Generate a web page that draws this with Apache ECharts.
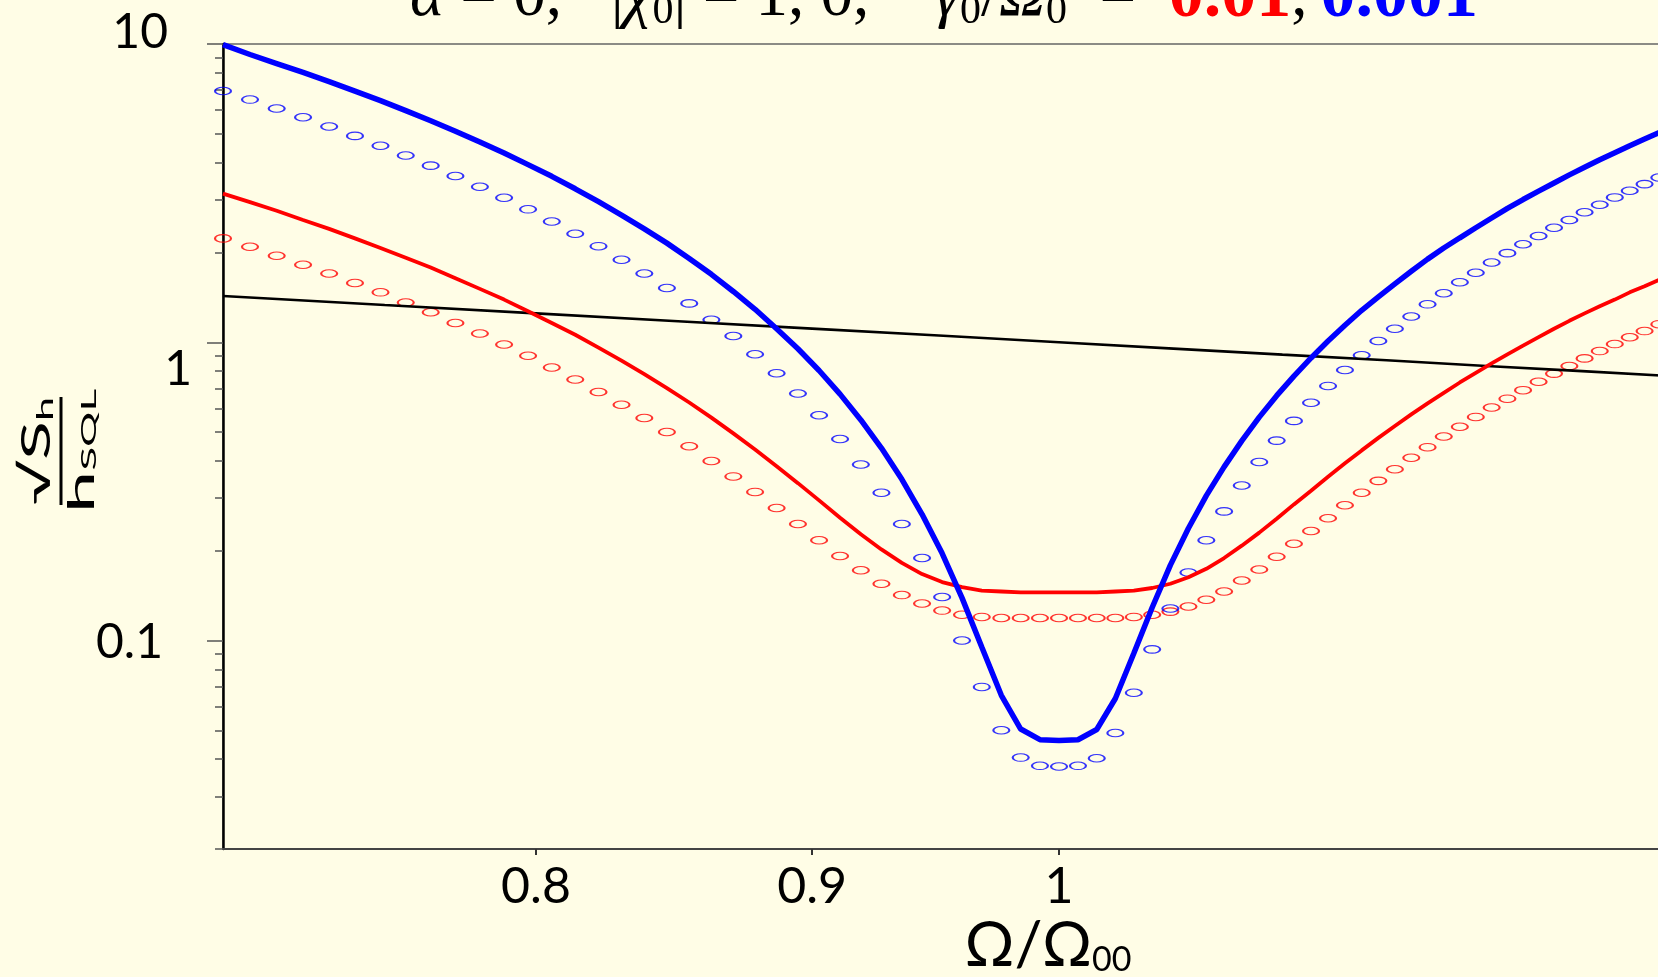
<!DOCTYPE html>
<html><head><meta charset="utf-8">
<script src="https://cdn.jsdelivr.net/npm/echarts@6/dist/echarts.min.js"></script>
<style>html,body{margin:0;padding:0;background:#FFFDE6;overflow:hidden;width:1658px;height:977px;} #c{width:1674px;height:977px;}</style>
</head><body><div id="c"></div>
<script>
// Frequency Ω/Ω00 sample points of the circle markers
const omega = [0.7, 0.70811, 0.71622, 0.72432, 0.73243, 0.74054, 0.74865, 0.75676, 0.76486, 0.77297,
  0.78108, 0.78919, 0.7973, 0.80541, 0.81351, 0.82162, 0.82973, 0.83784, 0.84595, 0.85405,
  0.86216, 0.87027, 0.87838, 0.88649, 0.89459, 0.9027, 0.91081, 0.91892, 0.92703, 0.93514,
  0.94324, 0.95135, 0.95946, 0.96757, 0.97568, 0.98378, 0.99189, 1.0, 1.00811, 1.01622,
  1.02432, 1.03243, 1.04054, 1.04865, 1.05676, 1.06486, 1.07297, 1.08108, 1.08919, 1.0973,
  1.10541, 1.11351, 1.12162, 1.12973, 1.13784, 1.14595, 1.15405, 1.16216, 1.17027, 1.17838,
  1.18649, 1.19459, 1.2027, 1.21081, 1.21892, 1.22703, 1.23514, 1.24324, 1.25135, 1.25946,
  1.26757, 1.27568, 1.28378, 1.29189, 1.3];
// gamma0/Omega0 = 0.001 (blue), solid line
const blueSolid = [9.95, 9.22, 8.60, 8.03, 7.48, 6.95, 6.46, 5.98, 5.53, 5.10,
  4.69, 4.31, 3.94, 3.60, 3.27, 2.96, 2.67, 2.40, 2.15, 1.91,
  1.69, 1.48, 1.29, 1.11, 0.951, 0.804, 0.670, 0.549, 0.442, 0.347,
  0.265, 0.196, 0.139, 0.0951, 0.0655, 0.0505, 0.0465, 0.0462, 0.0465, 0.0503,
  0.0639, 0.0906, 0.129, 0.179, 0.238, 0.306, 0.382, 0.467, 0.561, 0.662,
  0.770, 0.886, 1.01, 1.14, 1.28, 1.42, 1.57, 1.73, 1.90, 2.07,
  2.24, 2.42, 2.61, 2.81, 3.01, 3.21, 3.42, 3.64, 3.86, 4.09,
  4.32, 4.56, 4.80, 5.05, 5.30];
// gamma0/Omega0 = 0.001 (blue), circles
const blueCircles = [6.96, 6.51, 6.08, 5.68, 5.29, 4.92, 4.56, 4.23, 3.91, 3.61,
  3.32, 3.05, 2.79, 2.54, 2.31, 2.10, 1.89, 1.70, 1.52, 1.35,
  1.19, 1.05, 0.912, 0.787, 0.673, 0.569, 0.474, 0.389, 0.313, 0.246,
  0.189, 0.140, 0.100, 0.0699, 0.0500, 0.0405, 0.0380, 0.0378, 0.0380, 0.0403,
  0.0490, 0.0668, 0.0934, 0.128, 0.169, 0.217, 0.271, 0.331, 0.397, 0.468,
  0.545, 0.627, 0.714, 0.807, 0.904, 1.01, 1.11, 1.22, 1.34, 1.46,
  1.59, 1.71, 1.85, 1.99, 2.13, 2.27, 2.42, 2.57, 2.73, 2.89,
  3.06, 3.22, 3.39, 3.57, 3.74];
// gamma0/Omega0 = 0.01 (red), solid line
const redSolid = [3.15, 2.95, 2.76, 2.57, 2.40, 2.23, 2.07, 1.92, 1.78, 1.64,
  1.51, 1.39, 1.27, 1.16, 1.06, 0.960, 0.868, 0.782, 0.702, 0.628,
  0.559, 0.495, 0.437, 0.384, 0.337, 0.295, 0.258, 0.227, 0.202, 0.182,
  0.167, 0.157, 0.151, 0.147, 0.146, 0.145, 0.145, 0.145, 0.145, 0.145,
  0.146, 0.147, 0.150, 0.155, 0.163, 0.174, 0.189, 0.208, 0.230, 0.256,
  0.286, 0.318, 0.354, 0.393, 0.434, 0.478, 0.524, 0.573, 0.624, 0.677,
  0.733, 0.790, 0.849, 0.911, 0.974, 1.04, 1.11, 1.18, 1.25, 1.32,
  1.39, 1.47, 1.54, 1.62, 1.70];
// gamma0/Omega0 = 0.01 (red), circles
const redCircles = [2.23, 2.09, 1.95, 1.82, 1.70, 1.58, 1.47, 1.36, 1.26, 1.16,
  1.07, 0.983, 0.901, 0.823, 0.750, 0.681, 0.617, 0.557, 0.500, 0.448,
  0.400, 0.355, 0.315, 0.278, 0.246, 0.217, 0.192, 0.172, 0.155, 0.142,
  0.133, 0.126, 0.122, 0.120, 0.119, 0.119, 0.119, 0.119, 0.119, 0.119,
  0.119, 0.120, 0.122, 0.125, 0.130, 0.137, 0.146, 0.159, 0.173, 0.191,
  0.211, 0.233, 0.257, 0.284, 0.313, 0.343, 0.375, 0.410, 0.445, 0.483,
  0.521, 0.562, 0.604, 0.647, 0.691, 0.737, 0.785, 0.833, 0.883, 0.934,
  0.986, 1.04, 1.09, 1.15, 1.21];
// black reference line
const sqlX = [0.7, 0.75, 0.8, 0.85, 0.9, 0.95, 1.0, 1.05, 1.1, 1.15, 1.2, 1.25, 1.3];
const sqlY = [1.43, 1.333, 1.25, 1.176, 1.111, 1.053, 1.0, 0.952, 0.909, 0.870, 0.833, 0.800, 0.769];
// ticks
const xTickValues = [0.8, 0.9, 1];
const yMajorTicks = [0.1, 1, 10];
const yMinorTicks = [0.02, 0.03, 0.04, 0.05, 0.06, 0.07, 0.08, 0.09,
  0.2, 0.3, 0.4, 0.5, 0.6, 0.7, 0.8, 0.9, 2, 3, 4, 5, 6, 7, 8, 9];

const pairs = (xs, ys) => xs.map((x, i) => [x, ys[i]]);
const tickFont = "'Lato', 'Open Sans', sans-serif";
const serif = "'Liberation Serif', 'DejaVu Serif', serif";

const chart = echarts.init(document.getElementById('c'), null, {renderer: 'canvas'});
const yBase = {
  type: 'log', logBase: 10, min: 0.02, max: 10, position: 'left',
  splitLine: {show: false}
};
chart.setOption({
  backgroundColor: '#FFFDE6',
  animation: false,
  grid: {left: 223, right: 0, top: 44, bottom: 128, show: true, borderColor: '#666', borderWidth: 1.5, backgroundColor: 'transparent'},
  xAxis: {
    type: 'log', logBase: 10, min: 0.7, max: 1.3,
    splitLine: {show: false},
    axisLine: {lineStyle: {color: '#444', width: 2}},
    axisTick: {customValues: xTickValues, length: 6, lineStyle: {color: '#333', width: 2}},
    axisLabel: {customValues: xTickValues, margin: 13, fontSize: 50, fontFamily: tickFont, color: '#000',
      formatter: v => (Math.abs(v - 1) < 1e-9 ? '1' : String(+v.toFixed(2)))}
  },
  yAxis: [
    Object.assign({}, yBase, {
      axisLine: {show: true, lineStyle: {color: '#000', width: 2.5}},
      axisTick: {customValues: yMajorTicks, length: 16, lineStyle: {color: '#555', width: 1.5}},
      axisLabel: {customValues: yMajorTicks, margin: 31, fontSize: 48, fontFamily: tickFont, color: '#000',
        formatter: v => {
          if (Math.abs(v - 10) < 1e-6) return '{a|10}';
          if (Math.abs(v - 1) < 1e-6) return '{b|1}';
          return '{c|0.1}';
        },
        rich: {
          a: {fontSize: 48, fontFamily: tickFont, padding: [0, 24, 22, 0]},
          b: {fontSize: 48, fontFamily: tickFont, padding: [54, 0, 0, 0]},
          c: {fontSize: 48, fontFamily: tickFont, padding: [4, 29, 0, 0]}
        }
      }
    }),
    Object.assign({}, yBase, {
      axisLine: {show: false},
      axisTick: {customValues: yMinorTicks, length: 8, lineStyle: {color: '#555', width: 1.5}},
      axisLabel: {show: false}
    })
  ],
  series: [
    {type: 'line', name: 'SQL', data: pairs(sqlX, sqlY), showSymbol: false, symbol: 'none',
      lineStyle: {color: '#000', width: 2.6}},
    {type: 'scatter', name: 'red circles', data: pairs(omega, redCircles), symbol: 'circle', symbolSize: [16, 7.5],
      itemStyle: {color: 'rgba(0,0,0,0)', borderColor: '#ff0000', borderWidth: 1.5}},
    {type: 'scatter', name: 'blue circles', data: pairs(omega, blueCircles), symbol: 'circle', symbolSize: [16, 7.5],
      itemStyle: {color: 'rgba(0,0,0,0)', borderColor: '#0000ff', borderWidth: 1.5}},
    {type: 'line', name: 'red', data: pairs(omega, redSolid), showSymbol: false, symbol: 'none',
      lineStyle: {color: '#ff0000', width: 3.8}},
    {type: 'line', name: 'blue', data: pairs(omega, blueSolid), showSymbol: false, symbol: 'none',
      lineStyle: {color: '#0000ff', width: 5.5}}
  ],
  graphic: [
    {type: 'text', x: 410, y: 33, silent: true,
      style: {
        text: '{i|α}{k| = 0,   |}{i|χ}{s|0}{k|| = 1, 0,    }{i|γ}{s|0}{k|/}{i|Ω}{s|0}{k|  =  }{r|0.01}{k|,\u2009}{b|0.001}',
        verticalAlign: 'bottom', align: 'left',
        rich: {
          k: {fontSize: 65, fontFamily: serif, fill: '#000'},
          i: {fontSize: 65, fontFamily: serif, fontStyle: 'italic', fill: '#000'},
          s: {fontSize: 42, fontFamily: serif, fill: '#000', verticalAlign: 'bottom'},
          r: {fontSize: 70, fontFamily: serif, fontWeight: 'bold', fill: '#ff0000'},
          b: {fontSize: 70, fontFamily: serif, fontWeight: 'bold', fill: '#0000ff'}
        }
      }},
    {type: 'text', x: 1048, y: 946, silent: true,
      style: {
        text: '{m|Ω/Ω}{s|00}', align: 'center', verticalAlign: 'middle',
        rich: {
          m: {fontSize: 62, fontFamily: tickFont, fill: '#000'},
          s: {fontSize: 34, fontFamily: tickFont, fill: '#000', verticalAlign: 'bottom', padding: [20, 0, 0, 0]}
        }
      }},
    {type: 'group', x: 61, y: 451, rotation: Math.PI / 2, silent: true, children: [
      {type: 'text', x: 0, y: -4, scaleX: 1.8, style: {
        text: '{r|√}{S|S}{h|h}', align: 'center', verticalAlign: 'bottom',
        rich: {
          r: {fontSize: 40, fontFamily: tickFont, fill: '#000'},
          S: {fontSize: 40, fontFamily: tickFont, fill: '#000'},
          h: {fontSize: 24, fontFamily: tickFont, fill: '#000', verticalAlign: 'bottom', padding: [12, 0, 0, 0]}
        }}},
      {type: 'line', shape: {x1: -54, y1: 0, x2: 54, y2: 0}, style: {stroke: '#000', lineWidth: 3}},
      {type: 'text', x: 0, y: 3, scaleX: 2.1, style: {
        text: '{h|h}{q|SQL}', align: 'center', verticalAlign: 'top',
        rich: {
          h: {fontSize: 36, fontFamily: tickFont, fill: '#000'},
          q: {fontSize: 21, fontFamily: tickFont, fill: '#000', verticalAlign: 'bottom', padding: [12, 0, 0, 0]}
        }}}
    ]}
  ]
});
</script></body></html>
